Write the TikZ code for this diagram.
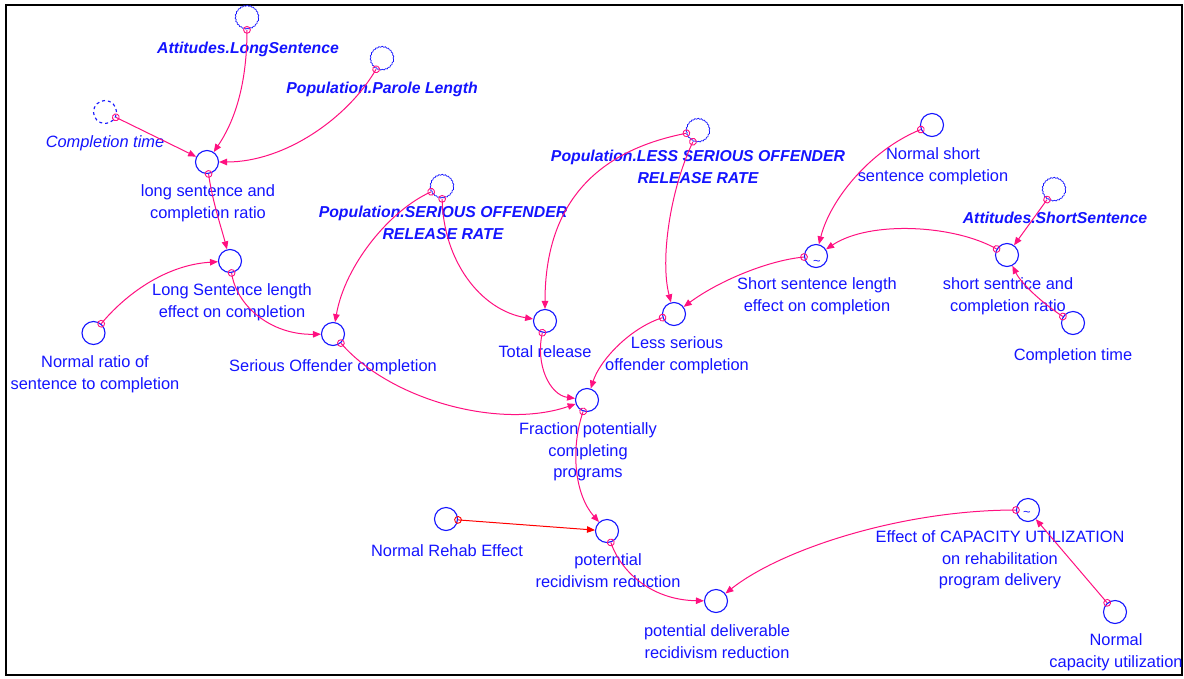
\documentclass[tikz,border=0pt]{standalone}
\usepackage{fontspec}
\setmainfont{Liberation Sans}
\usetikzlibrary{arrows.meta,decorations.markings,decorations.pathmorphing}
\definecolor{vb}{RGB}{20,20,255}
\definecolor{pk}{RGB}{255,16,128}
\definecolor{rd}{RGB}{255,0,0}
\tikzset{
 var/.style={circle, draw=vb, line width=1.1pt, minimum size=23pt, inner sep=0pt},
 ghost/.style={var, line width=0.7pt, decorate, decoration={snake, segment length=3.2pt, amplitude=0.45pt}},
 ghostd/.style={var, dash pattern=on 3pt off 3pt},
 lab/.style={text=vb, font=\fontsize{16.4}{21.5}\selectfont, align=center, inner sep=0pt, anchor=north, yshift=12.5pt, execute at begin node=\strut},
 blab/.style={lab, yshift=2.5pt, font=\fontsize{15.8}{21.5}\selectfont\bfseries\itshape},
 ilab/.style={lab, yshift=1.5pt, font=\fontsize{16.4}{21.5}\selectfont\itshape},
 tld/.style={text=vb, font=\fontsize{13}{13}\selectfont, inner sep=0pt},
 conn/.style={draw=#1, line width=1pt, -{Triangle[length=8pt,width=6.5pt]}, postaction={decorate},
   decoration={markings, mark=at position 0 with {\draw[#1, line width=0.9pt, solid] (0,0) circle (3.4pt);}}},
 conn/.default=pk,
}
\begin{document}
\begin{tikzpicture}[x=1pt,y=-1pt]
\useasboundingbox (0,0) rectangle (1184,678);
\fill[white] (0,0) rectangle (1184,678);
\draw[line width=2.5pt] (6,5) rectangle (1182,675);

% variables
\node[ghost] (attL) at (247,18) {};
\node[ghost] (par) at (382,59) {};
\node[ghostd] (ctL) at (105,112) {};
\node[var] (lsr) at (207,162) {};
\node[var] (lse) at (230,261) {};
\node[var] (nrs) at (93.5,333) {};
\node[ghost] (ser) at (442,187) {};
\node[var] (soc) at (333,334) {};
\node[var] (tr) at (545,321) {};
\node[ghost] (less) at (698,131) {};
\node[var] (lsoc) at (674,314) {};
\node[var] (nss) at (932,125) {};
\node[var] (sse) at (816,256) {};
\node[ghost] (attS) at (1054,190) {};
\node[var] (ssr) at (1007,255) {};
\node[var] (ctR) at (1073,323) {};
\node[var] (fpc) at (587,400) {};
\node[var] (nre) at (446,519) {};
\node[var] (pr) at (607,531) {};
\node[var] (pdr) at (716,601) {};
\node[var] (ecu) at (1028,510) {};
\node[var] (ncu) at (1115,612) {};
\node[tld] (tl1) at (817,263) {\textasciitilde};
\node[tld] (tl2) at (1027,514) {\textasciitilde};

% labels
\node[blab] (l-attL) at (248,53) {Attitudes.LongSentence};
\node[blab] (l-par) at (382,93) {Population.Parole Length};
\node[ilab] (l-ctL) at (105,146) {Completion time};
\node[lab] (l-lsr) at (208,197) {long sentence and\\completion ratio};
\node[lab] (l-lse) at (232,296) {Long Sentence length\\effect on completion};
\node[lab] (l-nrs) at (95,368) {Normal ratio of\\sentence to completion};
\node[blab] (l-ser) at (443,221) {Population.SERIOUS OFFENDER\\RELEASE RATE};
\node[lab] (l-soc) at (333,369) {Serious Offender completion};
\node[lab] (l-tr) at (545,355) {Total release};
\node[blab] (l-less) at (698,165) {Population.LESS SERIOUS OFFENDER\\RELEASE RATE};
\node[lab] (l-lsoc) at (677,349) {Less serious\\offender completion};
\node[lab] (l-nss) at (933,160) {Normal short\\sentence completion};
\node[lab] (l-sse) at (817,290) {Short sentence length\\effect on completion};
\node[blab] (l-attS) at (1055,223) {Attitudes.ShortSentence};
\node[lab] (l-ssr) at (1008,290) {short sentrice and\\completion ratio};
\node[lab] (l-ctR) at (1073,358) {Completion time};
\node[lab] (l-fpc) at (588,435) {Fraction potentially\\completing\\programs};
\node[lab] (l-nre) at (447,554) {Normal Rehab Effect};
\node[lab] (l-pr) at (608,566) {poterntial\\recidivism reduction};
\node[lab] (l-pdr) at (717,637) {potential deliverable\\recidivism reduction};
\node[lab] (l-ecu) at (1000,543) {Effect of CAPACITY UTILIZATION\\on rehabilitation\\program delivery};
\node[lab] (l-ncu) at (1116,646) {Normal\\capacity utilization};

% connectors
\draw[conn] (attL) .. controls (247,90) and (232,125) .. (lsr);
\draw[conn] (par) .. controls (348,118) and (285,162) .. (lsr);
\draw[conn] (ctL) -- (lsr);
\draw[conn] (lsr) .. controls (212,200) and (222,230) .. (lse);
\draw[conn] (nrs) .. controls (125,295) and (165,265) .. (lse);
\draw[conn] (lse) .. controls (236,305) and (270,335) .. (soc);
\draw[conn] (ser) .. controls (390,210) and (345,265) .. (soc);
\draw[conn] (ser) .. controls (443,260) and (480,310) .. (tr);
\draw[conn] (less) .. controls (600,150) and (545,200) .. (tr);
\draw[conn] (less) .. controls (670,190) and (660,260) .. (lsoc);
\draw[conn] (sse) .. controls (770,260) and (720,280) .. (lsoc);
\draw[conn] (nss) .. controls (870,150) and (830,200) .. (sse);
\draw[conn] (ssr) .. controls (955,225) and (870,220) .. (sse);
\draw[conn] (attS) -- (ssr);
\draw[conn] (ctR) .. controls (1045,305) and (1022,285) .. (ssr);
\draw[conn] (tr) .. controls (535,365) and (550,395) .. (fpc);
\draw[conn] (lsoc) .. controls (630,328) and (600,360) .. (fpc);
\draw[conn] (soc) .. controls (390,400) and (500,430) .. (fpc);
\draw[conn] (fpc) .. controls (570,450) and (575,495) .. (pr);
\draw[conn=rd] (nre) -- (pr);
\draw[conn] (pr) .. controls (620,570) and (650,600) .. (pdr);
\draw[conn] (ecu) .. controls (900,510) and (780,550) .. (pdr);
\draw[conn] (ncu) -- (ecu);
\end{tikzpicture}
\end{document}
